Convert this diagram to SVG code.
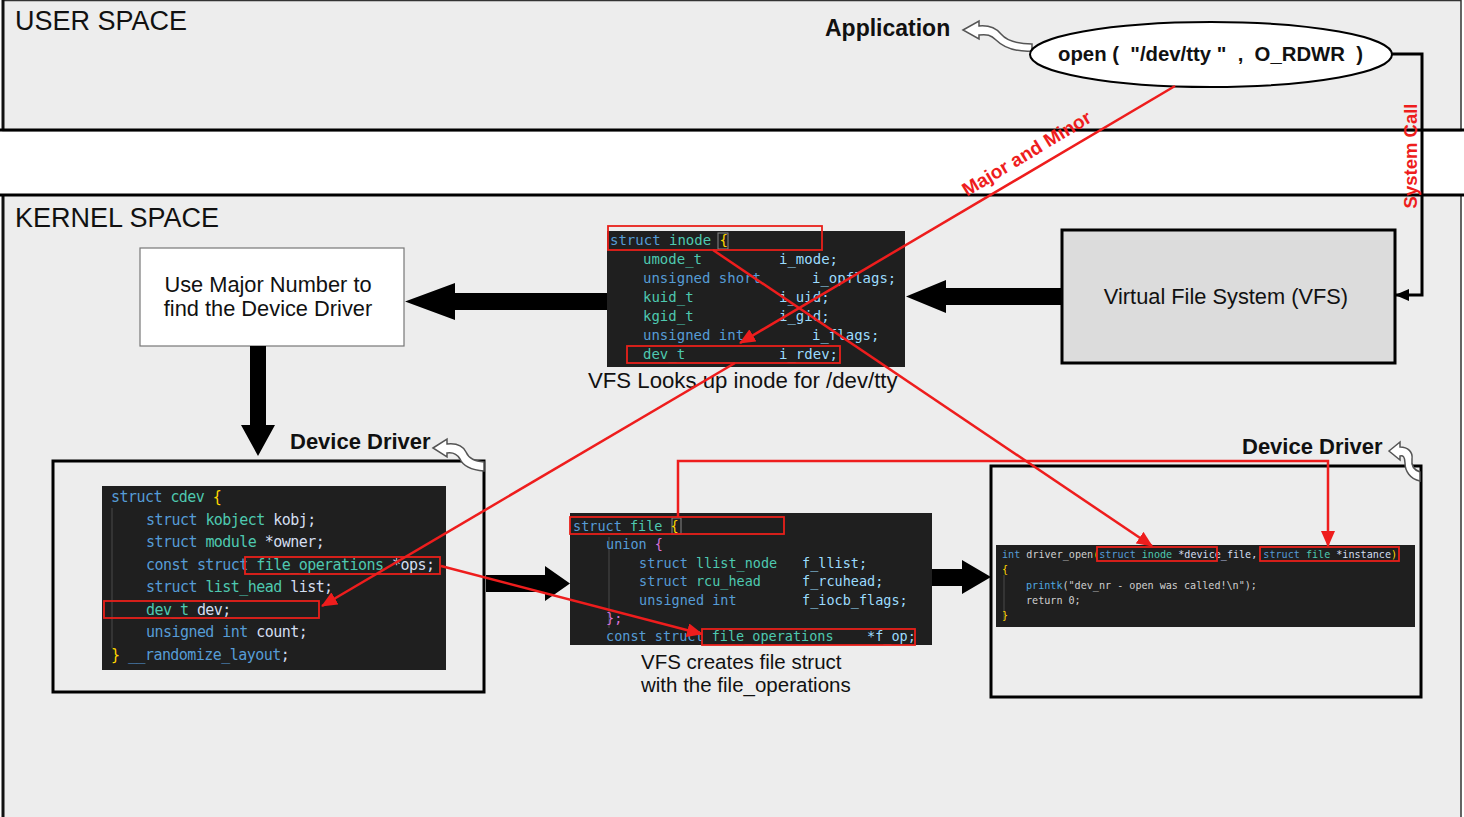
<svg xmlns="http://www.w3.org/2000/svg" width="1464" height="817" viewBox="0 0 1464 817">
<style>
.lbl{font-family:"Liberation Sans",Arial,sans-serif;fill:#111}
.b{font-weight:bold}
.pre{white-space:pre}
.code{font-family:"DejaVu Sans Mono","Liberation Mono",monospace;white-space:pre}
.kw{fill:#569cd6}.ty{fill:#4ec9b0}.va{fill:#9cdcfe}.vb{fill:#d4def0}.br{fill:#ffd700}.pu{fill:#da70d6}.pl{fill:#cfcfcf}.fn{fill:#4fa8e0}
.codebg{fill:#1f1f1f}
.rbox{fill:none;stroke:#e8201a;stroke-width:1.8}
.rline{fill:none;stroke:#ee1d1d;stroke-width:2.5}
.frame{fill:none;stroke:#000;stroke-width:3}
.hollow{fill:#fff;stroke:#555;stroke-width:1.5}
.thick{fill:#000}
.guide{stroke:#4a4a4a;stroke-width:1}
</style>
<defs>
<marker id="ra" markerUnits="userSpaceOnUse" markerWidth="16" markerHeight="14" refX="15" refY="7" orient="auto">
<path d="M0,0 L16,7 L0,14 Z" fill="#ee1d1d"/>
</marker>
<marker id="ka" markerUnits="userSpaceOnUse" markerWidth="14" markerHeight="12" refX="13" refY="6" orient="auto">
<path d="M0,0 L14,6 L0,12 Z" fill="#000"/>
</marker>
</defs>

<!-- background regions -->
<rect x="0" y="0" width="1464" height="817" fill="#fff"/>
<g id="user-space">
<rect x="3" y="0.5" width="1458" height="130" fill="#ededed" stroke="#333" stroke-width="1.5"/>
<line x1="3" y1="0" x2="3" y2="131" stroke="#111" stroke-width="3"/>
<text class="lbl" x="15" y="30" font-size="27">USER SPACE</text>
</g>
<g id="kernel-space">
<rect x="3" y="195" width="1458" height="630" fill="#ededed" stroke="#333" stroke-width="1.5"/>
<line x1="3" y1="195" x2="3" y2="817" stroke="#111" stroke-width="3"/>
<text class="lbl" x="15" y="227" font-size="27">KERNEL SPACE</text>
</g>
<line x1="0" y1="130" x2="1464" y2="130" stroke="#000" stroke-width="3"/>
<line x1="0" y1="195" x2="1464" y2="195" stroke="#000" stroke-width="3"/>

<!-- Application -->
<g id="application">
<text class="lbl b" x="825" y="36" font-size="23">Application</text>
<path class="hollow" d="M963,30 L979,21 L979,26 C990,25 996,28 1001,34 C1007,41 1016,44 1032,44 L1032,51 C1014,52 1003,47 996,40 C991,35 987,34 979,35 L979,39 Z"/>
</g>
<g id="open-call">
<ellipse cx="1211" cy="54.5" rx="181" ry="32.5" fill="#fff" stroke="#000" stroke-width="2"/>
<text class="lbl b pre" x="1058" y="61" font-size="21" textLength="305" lengthAdjust="spacingAndGlyphs">open (  "/dev/tty "  ,  O_RDWR  )</text>
</g>

<!-- VFS -->
<g id="vfs">
<rect x="1062" y="230" width="333" height="133" fill="#dcdcdc" stroke="#000" stroke-width="3"/>
<text class="lbl" x="1226" y="304" font-size="21.8" text-anchor="middle">Virtual File System (VFS)</text>
</g>

<!-- Use Major Number -->
<g id="use-major">
<rect x="140" y="248" width="264" height="98" fill="#fff" stroke="#777" stroke-width="1.2"/>
<text class="lbl" x="268" y="292" font-size="21.8" text-anchor="middle">Use Major Number to</text>
<text class="lbl" x="268" y="316" font-size="21.8" text-anchor="middle">find the Device Driver</text>
</g>

<!-- inode code -->
<g id="inode">
<rect class="codebg" x="607" y="231" width="298" height="136"/>
<rect x="718" y="233" width="10" height="16" fill="none" stroke="#888" stroke-width="1"/>
<g class="code" font-size="14">
<text x="610" y="245"><tspan class="kw">struct</tspan> <tspan class="ty">inode</tspan> <tspan class="br">{</tspan></text>
<text x="643" y="264" class="ty">umode_t</text><text x="779" y="264" class="va">i_mode;</text>
<text x="643" y="283" class="kw">unsigned short</text><text x="812" y="283" class="va">i_opflags;</text>
<text x="643" y="302" class="ty">kuid_t</text><text x="779" y="302" class="va">i_uid;</text>
<text x="643" y="321" class="ty">kgid_t</text><text x="779" y="321" class="va">i_gid;</text>
<text x="643" y="340" class="kw">unsigned int</text><text x="812" y="340" class="va">i_flags;</text>
<text x="643" y="359" class="ty">dev_t</text><text x="779" y="359" class="va">i_rdev;</text>
</g>
<rect class="rbox" x="608" y="226" width="214" height="24"/>
<rect class="rbox" x="627" y="346" width="213" height="17"/>
<text class="lbl" x="588" y="388" font-size="22.2">VFS Looks up inode for /dev/tty</text>
</g>

<!-- Left device driver -->
<g id="device-driver-left">
<rect class="frame" x="53" y="461" width="431" height="231"/>
<text class="lbl b" x="290" y="449" font-size="22">Device Driver</text>
<path class="hollow" d="M433,448 L447,439 L447,444 C456,443 463,446 466,452 C469,459 475,461 484,462 L484,471 C472,470 463,466 460,459 C457,454 453,452 447,453 L447,457 Z"/>
<rect class="codebg" x="102" y="486" width="344" height="184"/>
<line class="guide" x1="112" y1="508" x2="112" y2="648"/>
<g class="code" font-size="15" letter-spacing="-0.55">
<text x="111" y="502"><tspan class="kw">struct</tspan> <tspan class="ty">cdev</tspan> <tspan class="br">{</tspan></text>
<text x="146" y="525"><tspan class="kw">struct</tspan> <tspan class="ty">kobject</tspan> <tspan class="vb">kobj;</tspan></text>
<text x="146" y="547"><tspan class="kw">struct</tspan> <tspan class="ty">module</tspan> <tspan class="vb">*owner;</tspan></text>
<text x="146" y="570"><tspan class="kw">const struct</tspan> <tspan class="ty">file_operations</tspan> <tspan class="vb">*ops;</tspan></text>
<text x="146" y="592"><tspan class="kw">struct</tspan> <tspan class="ty">list_head</tspan> <tspan class="vb">list;</tspan></text>
<text x="146" y="615"><tspan class="ty">dev_t</tspan> <tspan class="vb">dev;</tspan></text>
<text x="146" y="637"><tspan class="kw">unsigned int</tspan> <tspan class="vb">count;</tspan></text>
<text x="111" y="660"><tspan class="br">}</tspan> <tspan class="kw">__randomize_layout</tspan><tspan class="vb">;</tspan></text>
</g>
<rect class="rbox" x="245" y="557" width="195" height="17"/>
<rect class="rbox" x="104" y="601" width="215" height="17"/>
</g>

<!-- struct file -->
<g id="file-struct">
<rect class="codebg" x="570" y="513" width="362" height="132"/>
<rect x="672" y="518" width="9" height="16" fill="none" stroke="#888" stroke-width="1"/>
<line class="guide" x1="609" y1="537" x2="609" y2="628"/>
<g class="code" font-size="13.5">
<text x="573" y="531"><tspan class="kw">struct</tspan> <tspan class="ty">file</tspan> <tspan class="br">{</tspan></text>
<text x="606" y="549"><tspan class="kw">union</tspan> <tspan class="pu">{</tspan></text>
<text x="639" y="568"><tspan class="kw">struct</tspan> <tspan class="ty">llist_node</tspan></text><text x="802" y="568" class="va">f_llist;</text>
<text x="639" y="586"><tspan class="kw">struct</tspan> <tspan class="ty">rcu_head</tspan></text><text x="802" y="586" class="va">f_rcuhead;</text>
<text x="639" y="605" class="kw">unsigned int</text><text x="802" y="605" class="va">f_iocb_flags;</text>
<text x="606" y="623" class="pu">};</text>
<text x="606" y="641"><tspan class="kw">const struct</tspan> <tspan class="ty">file_operations</tspan></text><text x="867" y="641" class="va">*f_op;</text>
</g>
<rect class="rbox" x="570" y="517" width="214" height="17"/>
<rect class="rbox" x="702" y="629" width="213" height="16"/>
<text class="lbl" x="641" y="669" font-size="20.5">VFS creates file struct</text>
<text class="lbl" x="641" y="692" font-size="20.5">with the file_operations</text>
</g>

<!-- Right device driver -->
<g id="device-driver-right">
<rect class="frame" x="991" y="466" width="430" height="231"/>
<text class="lbl b" x="1242" y="454" font-size="22">Device Driver</text>
<path class="hollow" d="M1389,451 L1400,442 L1400,447 C1408,447 1413,452 1412,459 C1411,466 1414,470 1420,472 L1420,481 C1410,479 1405,471 1405,463 C1405,457 1403,455 1400,456 L1400,460 Z"/>
<rect class="codebg" x="996" y="545" width="419" height="82"/>
<line class="guide" x1="1004" y1="575" x2="1004" y2="620"/>
<g class="code" font-size="10.1">
<text x="1002" y="558"><tspan class="kw">int</tspan> <tspan class="pl">driver_open</tspan><tspan class="br">(</tspan><tspan class="kw">struct</tspan> <tspan class="ty">inode</tspan> <tspan class="vb">*device_file,</tspan> <tspan class="kw">struct</tspan> <tspan class="ty">file</tspan> <tspan class="vb">*instance</tspan><tspan class="br">)</tspan></text>
<text x="1002" y="573" class="br">{</text>
<text x="1026" y="589"><tspan class="fn">printk</tspan><tspan class="pl">("dev_nr - open was called!\n");</tspan></text>
<text x="1026" y="604" class="pl">return 0;</text>
<text x="1002" y="619" class="br">}</text>
</g>
<rect class="rbox" x="1097" y="547" width="120" height="14"/>
<rect class="rbox" x="1260" y="547" width="139" height="14"/>
</g>

<!-- connectors -->
<g id="connectors">
<polyline points="1392,54 1422,54 1422,295 1396,295" fill="none" stroke="#000" stroke-width="3" marker-end="url(#ka)"/>
<text class="b" font-family="Liberation Sans,Arial,sans-serif" font-size="18.5" fill="#ee1d1d" text-anchor="middle" transform="translate(1417,156) rotate(-90)">System Call</text>
<polygon class="thick" points="1062,288 946,288 946,280 906,296.5 946,313 946,305 1062,305"/>
<polygon class="thick" points="607,293 455,293 455,283 405,301.5 455,320 455,310 607,310"/>
<polygon class="thick" points="250,346 250,425 241,425 258,456 275,425 266,425 266,346"/>
<polygon class="thick" points="486,575 545,575 545,566 570,583.5 545,601 545,592 486,592"/>
<polygon class="thick" points="932,569 962,569 962,560 991,577 962,594 962,586 932,586"/>
<line class="rline" x1="1175" y1="86" x2="740" y2="343" marker-end="url(#ra)"/>
<text class="b" font-family="Liberation Sans,Arial,sans-serif" font-size="19" fill="#ee1d1d" text-anchor="middle" transform="translate(1030,159) rotate(-31)">Major and Minor</text>
<line class="rline" x1="735" y1="363" x2="322" y2="606" marker-end="url(#ra)"/>
<line class="rline" x1="713" y1="250" x2="1152" y2="546" marker-end="url(#ra)"/>
<polyline class="rline" points="678,517 678,461 1328,461 1328,546" marker-end="url(#ra)"/>
<line class="rline" x1="441" y1="566" x2="702" y2="634" marker-end="url(#ra)"/>
</g>
</svg>
